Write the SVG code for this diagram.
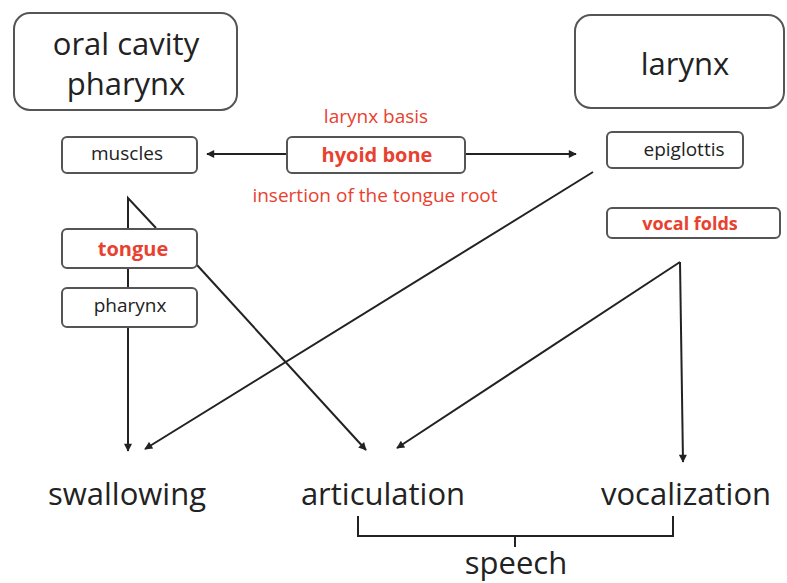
<svg xmlns="http://www.w3.org/2000/svg" width="787" height="583" viewBox="0 0 787 583">
<defs>
<style>
.big{fill:#fff;stroke:#555;stroke-width:2}
.sm{fill:#fff;stroke:#555;stroke-width:2}
text{font-family:"Open Sans","DejaVu Sans",sans-serif;text-anchor:middle;fill:#222}
.t1{font-size:31px}
.t2{font-size:19px}
.red{fill:#e8412f}
.b{font-weight:bold}
.con{fill:none;stroke:#222;stroke-width:2}
</style>
<marker id="ah" viewBox="0 0 10 10" refX="9" refY="5" markerWidth="10" markerHeight="8" markerUnits="userSpaceOnUse" orient="auto">
<path d="M0,0 L10,5 L0,10 z" fill="#222"/>
</marker>
</defs>
<rect width="787" height="583" fill="#fff"/>
<g id="connectors">
<path class="con" d="M287,154 H207" marker-end="url(#ah)"/>
<path class="con" d="M465,154 H576" marker-end="url(#ah)"/>
<path class="con" d="M128,229 V198 L156,228"/>
<path class="con" d="M128,268 V288"/>
<path class="con" d="M128,327 V451" marker-end="url(#ah)"/>
<path class="con" d="M593,172 L145,449" marker-end="url(#ah)"/>
<path class="con" d="M197,265 L366,450" marker-end="url(#ah)"/>
<path class="con" d="M680,262 L397,448" marker-end="url(#ah)"/>
<path class="con" d="M680,262 L683,462" marker-end="url(#ah)"/>
<path class="con" d="M358,516 V536 H673 V516"/>
<path class="con" d="M515,536 V547"/>
</g>
<g id="oral-cavity">
<rect class="big" x="14" y="13" width="223" height="97" rx="16"/>
<text class="t1" x="126" y="55">oral cavity</text>
<text class="t1" x="126" y="95">pharynx</text>
</g>
<g id="larynx">
<rect class="big" x="575" y="15" width="209" height="93" rx="16"/>
<text class="t1" x="685" y="75">larynx</text>
</g>
<g id="muscles">
<rect class="sm" x="62" y="137" width="135" height="36" rx="5"/>
<text class="t2" x="127" y="160">muscles</text>
</g>
<g id="hyoid">
<text class="t2 red" x="376" y="123">larynx basis</text>
<rect class="sm" x="287" y="137" width="178" height="36" rx="5"/>
<text class="t2 red b" x="377" y="162" style="font-size:20px">hyoid bone</text>
<text class="t2 red" x="375" y="202">insertion of the tongue root</text>
</g>
<g id="epiglottis">
<rect class="sm" x="607" y="132" width="136" height="36" rx="5"/>
<text class="t2" x="684" y="156">epiglottis</text>
</g>
<g id="vocal-folds">
<rect class="sm" x="607" y="208" width="173" height="30" rx="5"/>
<text class="t2 red b" x="690" y="230" style="font-size:18px">vocal folds</text>
</g>
<g id="tongue">
<rect class="sm" x="62" y="229" width="135" height="39" rx="5"/>
<text class="t2 red b" x="133" y="256" style="font-size:20px">tongue</text>
</g>
<g id="pharynx">
<rect class="sm" x="62" y="288" width="135" height="39" rx="5"/>
<text class="t2" x="130" y="312">pharynx</text>
</g>
<g id="swallowing"><text class="t1" x="127" y="505">swallowing</text></g>
<g id="articulation"><text class="t1" x="383" y="505">articulation</text></g>
<g id="vocalization"><text class="t1" x="686" y="505">vocalization</text></g>
<g id="speech"><text class="t1" x="516" y="574">speech</text></g>
</svg>
